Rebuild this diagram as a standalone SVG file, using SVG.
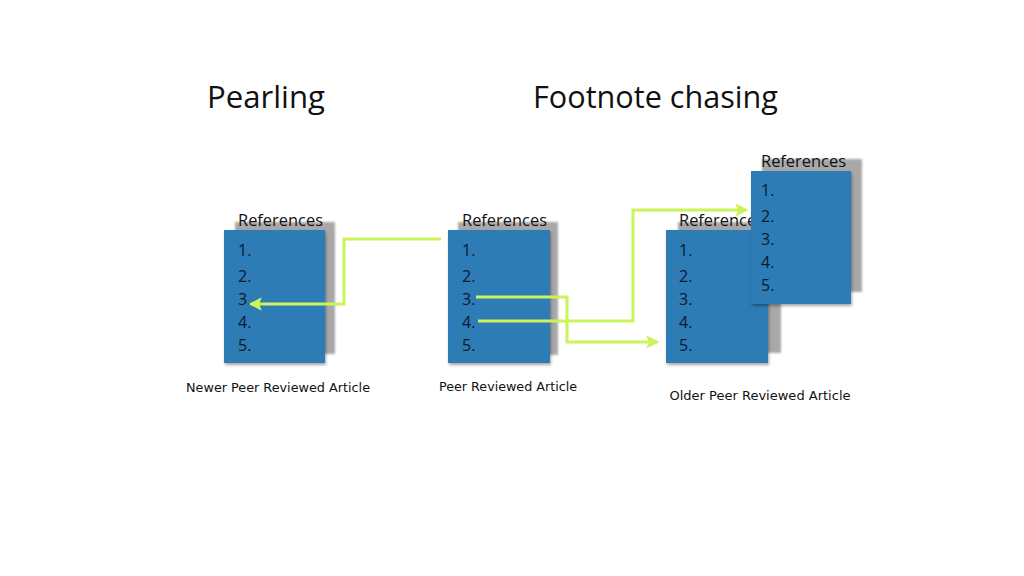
<svg xmlns="http://www.w3.org/2000/svg" width="1024" height="576" viewBox="0 0 1024 576">
<style>
.title{font-family:"Open Sans","DejaVu Sans",sans-serif;font-size:31px;fill:#111}
.ref{font-family:"Open Sans","Liberation Sans",sans-serif;font-size:15.5px;fill:#111}
.num{font-family:"Open Sans","Liberation Sans",sans-serif;font-size:16px;fill:#0d1a2a}
.cap{font-family:"DejaVu Sans","Liberation Sans",sans-serif;font-size:13px;fill:#111}
.shadow{fill:#a8a8a8;filter:url(#blur)}
.page{fill:#2e7bb6;filter:url(#ds)}
.conn{fill:none;stroke:#cbf45a;stroke-width:3;stroke-linejoin:miter}
</style>
<defs>
<filter id="blur" x="-10%" y="-10%" width="120%" height="120%"><feGaussianBlur stdDeviation="1.2"/></filter>
<filter id="ds" x="-10%" y="-10%" width="125%" height="125%"><feDropShadow dx="1" dy="2" stdDeviation="1.5" flood-color="#000" flood-opacity="0.35"/></filter>
<marker id="arr" viewBox="0 0 10 10" refX="8" refY="5" markerWidth="4.5" markerHeight="4.5" orient="auto-start-reverse" markerUnits="strokeWidth">
<path d="M0,0 L10,5 L0,10 L2,5 Z" fill="#cbf45a"/>
</marker>
</defs>
<rect width="1024" height="576" fill="#fff"/>
<text class="title" x="207" y="108" textLength="118" lengthAdjust="spacingAndGlyphs">Pearling</text>
<text class="title" x="533" y="108" textLength="245" lengthAdjust="spacingAndGlyphs">Footnote chasing</text>

<g id="newer">
<rect class="shadow" x="235" y="222" width="100" height="132"/>
<text class="ref" x="238" y="226" textLength="85" lengthAdjust="spacingAndGlyphs">References</text>
<rect class="page" x="224" y="230" width="101" height="133"/>
<text class="num" x="238" y="256">1.</text>
<text class="num" x="238" y="282">2.</text>
<text class="num" x="238" y="305">3.</text>
<text class="num" x="238" y="328">4.</text>
<text class="num" x="238" y="351">5.</text>
<text class="cap" x="278" y="392" text-anchor="middle" textLength="184" lengthAdjust="spacingAndGlyphs">Newer Peer Reviewed Article</text>
</g>

<g id="peer">
<rect class="shadow" x="458" y="222" width="100" height="133"/>
<text class="ref" x="462" y="226" textLength="85" lengthAdjust="spacingAndGlyphs">References</text>
<rect class="page" x="448" y="230" width="102" height="133"/>
<text class="num" x="462" y="256">1.</text>
<text class="num" x="462" y="282">2.</text>
<text class="num" x="462" y="305">3.</text>
<text class="num" x="462" y="328">4.</text>
<text class="num" x="462" y="351">5.</text>
<text class="cap" x="508" y="391" text-anchor="middle" textLength="138" lengthAdjust="spacingAndGlyphs">Peer Reviewed Article</text>
</g>

<g id="older">
<rect class="shadow" x="678" y="222" width="103" height="131"/>
<text class="ref" x="679" y="226" textLength="85" lengthAdjust="spacingAndGlyphs">References</text>
<rect class="page" x="666" y="230" width="102" height="133"/>
<text class="num" x="679" y="256">1.</text>
<text class="num" x="679" y="282">2.</text>
<text class="num" x="679" y="305">3.</text>
<text class="num" x="679" y="328">4.</text>
<text class="num" x="679" y="351">5.</text>
<text class="cap" x="760" y="400" text-anchor="middle" textLength="181" lengthAdjust="spacingAndGlyphs">Older Peer Reviewed Article</text>
</g>

<g id="older2">
<rect class="shadow" x="762" y="159" width="100" height="133"/>
<text class="ref" x="761" y="167" textLength="85" lengthAdjust="spacingAndGlyphs">References</text>
<rect class="page" x="751" y="171" width="100" height="133"/>
<text class="num" x="761" y="196">1.</text>
<text class="num" x="761" y="222">2.</text>
<text class="num" x="761" y="245">3.</text>
<text class="num" x="761" y="268">4.</text>
<text class="num" x="761" y="291">5.</text>
</g>

<g id="connectors">
<polyline class="conn" points="441,239 344,239 344,304 251,304" marker-end="url(#arr)"/>
<polyline class="conn" points="476,297 567,297 567,342 657,342" marker-end="url(#arr)"/>
<polyline class="conn" points="478,321 633,321 633,210 746,210" marker-end="url(#arr)"/>
</g>
</svg>
